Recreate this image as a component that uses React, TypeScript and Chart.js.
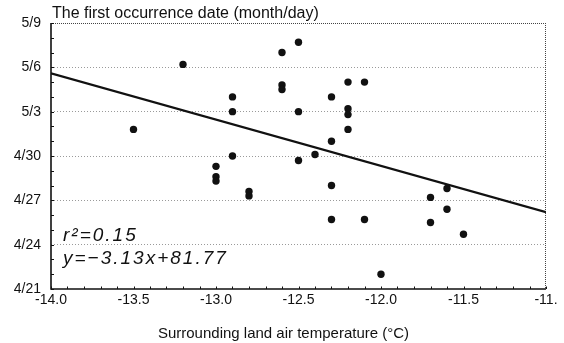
import { useEffect, useRef } from "react";
import { Chart, registerables } from "chart.js";

Chart.register(...registerables);

// Observed points: surrounding land air temperature (°C) vs first occurrence day (day of year)
const temperature = [
  -13.5, -13.2, -12.9, -12.9, -12.9, -13.0, -13.0, -13.0, -12.8, -12.8,
  -12.6, -12.6, -12.6, -12.5, -12.5, -12.5, -12.4, -12.3, -12.3, -12.3,
  -12.3, -12.2, -12.2, -12.2, -12.2, -12.1, -12.1, -12.0, -11.7, -11.7,
  -11.6, -11.6, -11.5,
];
const firstDay = [
  121.8, 126.2, 124.0, 123.0, 120.0, 119.3, 118.6, 118.3, 117.6, 117.3,
  127.0, 124.8, 124.5, 127.7, 123.0, 119.7, 120.1, 124.0, 121.0, 118.0,
  115.7, 125.0, 123.2, 122.8, 121.8, 125.0, 115.7, 112.0, 117.2, 115.5,
  117.8, 116.4, 114.7,
];

// Regression line end points
const fitX = [-14, -11];
const fitY = [125.6, 116.2];

const xTickLabels = ["-14.0", "-13.5", "-13.0", "-12.5", "-12.0", "-11.5", "-11."];
const yTickLabels = ["4/21", "4/24", "4/27", "4/30", "5/3", "5/6", "5/9"];

const chartTitle = "The first occurrence date (month/day)";
const xAxisTitle = "Surrounding land air temperature (°C)";
const r2Label = "r²=0.15";
const equationLabel = "y=−3.13x+81.77";

const FONT = "Arial, 'Liberation Sans', sans-serif";

const decor = {
  id: "decor",
  beforeDatasetsDraw(chart: any) {
    const { ctx, chartArea: a, scales } = chart;
    ctx.save();
    // top and right dotted frame
    ctx.strokeStyle = "#444";
    ctx.lineWidth = 1;
    ctx.setLineDash([1, 1]);
    ctx.beginPath();
    ctx.moveTo(a.left, a.top + 0.5);
    ctx.lineTo(a.right, a.top + 0.5);
    ctx.moveTo(a.right - 0.5, a.top);
    ctx.lineTo(a.right - 0.5, a.bottom);
    ctx.stroke();
    ctx.setLineDash([]);
    // axes
    ctx.strokeStyle = "#111";
    ctx.lineWidth = 1.6;
    ctx.beginPath();
    ctx.moveTo(a.left, a.top);
    ctx.lineTo(a.left, a.bottom);
    ctx.lineTo(a.right, a.bottom);
    ctx.stroke();
    // minor ticks
    ctx.lineWidth = 1;
    ctx.beginPath();
    const ys = scales.y;
    for (let d = ys.min; d <= ys.max; d++) {
      const y = Math.round(ys.getPixelForValue(d)) + 0.5;
      ctx.moveTo(a.left, y);
      ctx.lineTo(a.left + 3, y);
    }
    const xs = scales.x;
    for (let i = 0; i <= 30; i++) {
      const x = Math.round(xs.getPixelForValue(xs.min + i * 0.1)) + 0.5;
      ctx.moveTo(x, a.bottom);
      ctx.lineTo(x, a.bottom - 2.5);
    }
    ctx.stroke();
    ctx.restore();
  },
  afterDraw(chart: any) {
    const { ctx, chartArea: a } = chart;
    ctx.save();
    ctx.fillStyle = "#111";
    ctx.textAlign = "left";
    ctx.textBaseline = "alphabetic";
    ctx.font = `16px ${FONT}`;
    ctx.fillText(chartTitle, a.left + 1, 18);
    ctx.textAlign = "center";
    ctx.font = `15px ${FONT}`;
    ctx.fillText(xAxisTitle, 283.5, 338);
    ctx.textAlign = "left";
    ctx.font = `italic 19px ${FONT}`;
    (ctx as any).letterSpacing = "2px";
    ctx.fillText(r2Label, 63, 241);
    ctx.fillText(equationLabel, 63, 264);
    ctx.restore();
  },
};

export default function App() {
  const ref = useRef<HTMLCanvasElement | null>(null);
  useEffect(() => {
    if (!ref.current) return;
    const chart = new Chart(ref.current, {
      type: "scatter",
      data: {
        datasets: [
          {
            type: "line",
            data: fitX.map((x, i) => ({ x, y: fitY[i] })),
            borderColor: "#111",
            borderWidth: 2.2,
            pointRadius: 0,
            fill: false,
          } as any,
          {
            data: temperature.map((x, i) => ({ x, y: firstDay[i] })),
            backgroundColor: "#111",
            borderColor: "#111",
            pointRadius: 3.7,
            borderWidth: 0,
          },
        ],
      },
      options: {
        animation: false,
        responsive: true,
        maintainAspectRatio: false,
        layout: { padding: { left: 0, right: 18, top: 23, bottom: 0 } },
        plugins: {
          legend: { display: false },
          tooltip: { enabled: false },
          title: { display: false },
        },
        scales: {
          x: {
            type: "linear",
            min: -14,
            max: -11,
            afterFit: (s: any) => {
              s.height = 54;
            },
            ticks: {
              stepSize: 0.5,
              autoSkip: false,
              maxRotation: 0,
              padding: 3,
              color: "#111",
              font: { family: FONT, size: 14 },
              callback: (_v: any, i: number) => xTickLabels[i],
            },
            grid: { display: false, drawTicks: false },
            border: { display: false },
          },
          y: {
            type: "linear",
            min: 111,
            max: 129,
            afterFit: (s: any) => {
              s.width = 51;
            },
            ticks: {
              stepSize: 3,
              autoSkip: false,
              padding: 10,
              color: "#111",
              font: { family: FONT, size: 14 },
              callback: (_v: any, i: number) => yTickLabels[i],
            },
            grid: {
              drawTicks: false,
              lineWidth: 1,
              color: (c: any) =>
                c.index === 0 || c.index === yTickLabels.length - 1 ? "rgba(0,0,0,0)" : "#9a9a9a",
            },
            border: { display: false, dash: [1, 2] },
          },
        },
      },
      plugins: [decor],
    });
    return () => chart.destroy();
  }, []);
  return (
    <div style={{ position: "fixed", left: 0, top: 0, width: 564, height: 343, background: "#fff" }}>
      <canvas ref={ref} style={{ width: 564, height: 343 }} />
    </div>
  );
}
